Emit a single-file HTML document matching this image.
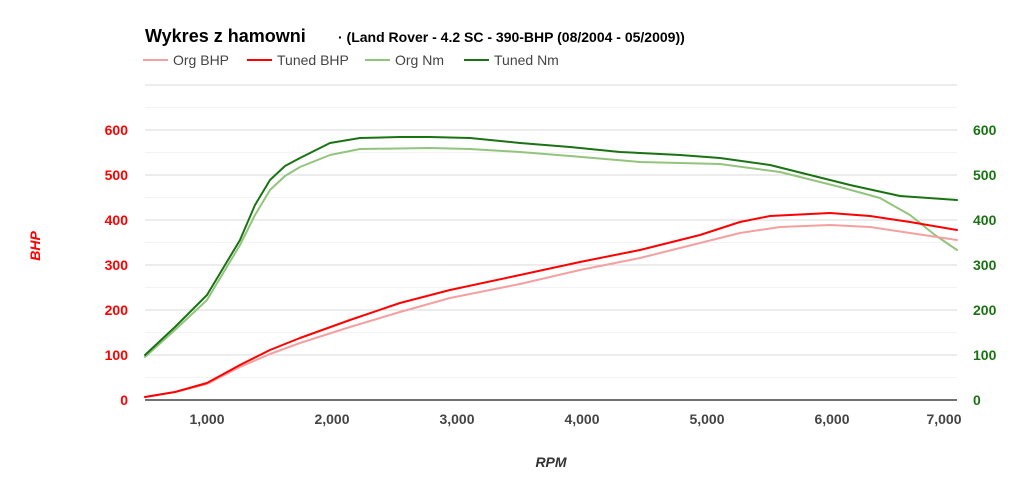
<!DOCTYPE html>
<html><head><meta charset="utf-8"><style>
html,body{margin:0;padding:0;background:#fff;width:1024px;height:480px;overflow:hidden}
svg{display:block;font-family:"Liberation Sans",Arial,sans-serif}
</style></head><body>
<svg width="1024" height="480" viewBox="0 0 1024 480">
<g stroke="#f3f3f3" stroke-width="1">
<line x1="145" x2="957" y1="377.5" y2="377.5"/><line x1="145" x2="957" y1="332.5" y2="332.5"/><line x1="145" x2="957" y1="287.5" y2="287.5"/><line x1="145" x2="957" y1="242.5" y2="242.5"/><line x1="145" x2="957" y1="197.5" y2="197.5"/><line x1="145" x2="957" y1="152.5" y2="152.5"/><line x1="145" x2="957" y1="107.5" y2="107.5"/>
</g>
<g stroke="#d9d9d9" stroke-width="1">
<line x1="145" x2="957" y1="85" y2="85"/><line x1="145" x2="957" y1="130" y2="130"/><line x1="145" x2="957" y1="175" y2="175"/><line x1="145" x2="957" y1="220" y2="220"/><line x1="145" x2="957" y1="265" y2="265"/><line x1="145" x2="957" y1="310" y2="310"/><line x1="145" x2="957" y1="355" y2="355"/>
</g>
<line x1="145" x2="957" y1="400" y2="400" stroke="#444" stroke-width="1.5"/>
<g fill="none" stroke-width="2" stroke-linejoin="round" stroke-linecap="round">
<polyline stroke="#93c47d" points="145,357 175,330 207,300 240,245 255,215 270,190 285,176 300,167 330,155 360,149 430,148 470,149 520,152 570,156 640,162 720,164 780,172 840,187 880,198 910,215 935,235 957,250"/>
<polyline stroke="#1a7313" points="145,355 175,327 207,295 240,240 255,205 270,180 285,166 300,158 330,143 360,138 400,137 430,137 470,138 520,143 570,147 620,152 680,155 720,158 770,165 810,175 850,185 900,196 957,200"/>
<polyline stroke="#f4a0a0" points="145,397 175,392 207,384 240,367 270,354 300,343 350,327 400,312 450,298 520,284 580,270 640,258 700,243 740,233 780,227 830,225 870,227 910,233 957,240"/>
<polyline stroke="#ff0000" points="145,397 175,392 207,383 240,365 270,350 300,338 350,320 400,303 450,290 520,275 580,262 640,250 700,235 740,222 770,216 830,213 870,216 910,222 957,230"/>
</g>
<g fill="#ff0000" font-size="14" font-weight="bold" text-anchor="end">
<text x="128" y="405">0</text><text x="128" y="360">100</text><text x="128" y="315">200</text><text x="128" y="270">300</text><text x="128" y="225">400</text><text x="128" y="180">500</text><text x="128" y="135">600</text>
</g>
<g fill="#1a7313" font-size="14" font-weight="bold">
<text x="973" y="405">0</text><text x="973" y="360">100</text><text x="973" y="315">200</text><text x="973" y="270">300</text><text x="973" y="225">400</text><text x="973" y="180">500</text><text x="973" y="135">600</text>
</g>
<g fill="#444" font-size="14" font-weight="bold" text-anchor="middle">
<text x="207" y="424">1,000</text><text x="332" y="424">2,000</text><text x="457" y="424">3,000</text><text x="582" y="424">4,000</text><text x="707" y="424">5,000</text><text x="832" y="424">6,000</text><text x="944" y="424">7,000</text>
</g>
<text x="551" y="467" fill="#333" font-size="14" font-weight="bold" font-style="italic" text-anchor="middle">RPM</text>
<text transform="translate(40,246) rotate(-90)" fill="#ff0000" font-size="14" font-weight="bold" font-style="italic" text-anchor="middle">BHP</text>
<text x="145" y="42" fill="#000" font-size="18" font-weight="bold">Wykres z hamowni</text>
<text x="338" y="42" fill="#000" font-size="14" font-weight="bold">· (Land Rover - 4.2 SC - 390-BHP (08/2004 - 05/2009))</text>
<g font-size="14" fill="#444">
<line x1="143" x2="168" y1="60" y2="60" stroke="#f4a0a0" stroke-width="2"/><text x="173" y="65">Org BHP</text>
<line x1="247" x2="272" y1="60" y2="60" stroke="#ff0000" stroke-width="2"/><text x="277" y="65">Tuned BHP</text>
<line x1="365" x2="390" y1="60" y2="60" stroke="#93c47d" stroke-width="2"/><text x="395" y="65">Org Nm</text>
<line x1="464" x2="489" y1="60" y2="60" stroke="#1a7313" stroke-width="2"/><text x="494" y="65">Tuned Nm</text>
</g>
</svg>
</body></html>
